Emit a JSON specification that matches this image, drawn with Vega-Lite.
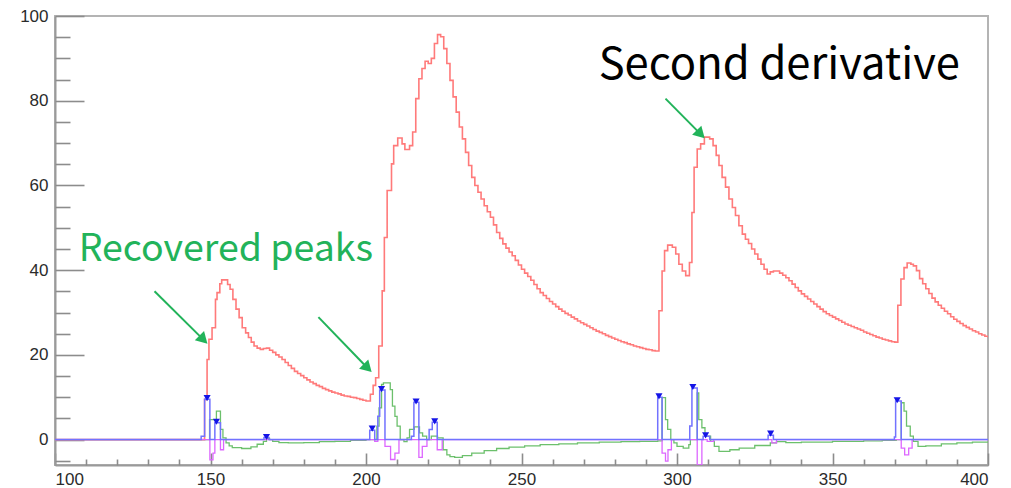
{
  "$schema": "https://vega.github.io/schema/vega-lite/v6.json",
  "width": 933,
  "height": 449,
  "autosize": "none",
  "padding": {"left": 55, "top": 16, "right": 23, "bottom": 23},
  "background": "white",
  "config": {
    "view": {"stroke": "#b4b4b4", "strokeWidth": 2},
    "axis": {"labelFont": "Liberation Sans", "labelFontSize": 17, "labelColor": "#2b2b2b", "domainColor": "#9a9a9a", "domainWidth": 2, "tickColor": "#8c8c8c", "tickWidth": 1.6, "grid": false, "title": null, "zindex": 1}
  },
  "datasets": {
    "red": [
      {"x":100,"y":0},{"x":148.1,"y":9.5},{"x":148.9,"y":18.9},{"x":149.5,"y":23.7},{"x":150.5,"y":26.4},{"x":151.6,"y":33.1},{"x":152.1,"y":34.7},{"x":153,"y":36.8},{"x":153.6,"y":37.7},{"x":155.5,"y":36.6},{"x":156.3,"y":35.5},{"x":157.2,"y":33.1},{"x":158.2,"y":30.8},{"x":159.2,"y":28.8},{"x":160.2,"y":26.4},{"x":161.3,"y":25.2},{"x":162.2,"y":24.1},{"x":163.1,"y":23.0},{"x":164,"y":22.1},{"x":165,"y":21.6},{"x":166,"y":21.3},{"x":167,"y":21.5},{"x":168,"y":21.6},{"x":169,"y":21.1},{"x":170,"y":20.6},{"x":171,"y":20.0},{"x":172,"y":19.5},{"x":173,"y":18.9},{"x":174,"y":18.2},{"x":175,"y":17.5},{"x":176,"y":16.8},{"x":177,"y":16.1},{"x":178,"y":15.6},{"x":179,"y":15.1},{"x":180,"y":14.6},{"x":181,"y":14.1},{"x":182,"y":13.6},{"x":183,"y":13.2},{"x":184,"y":12.8},{"x":185,"y":12.5},{"x":186,"y":12.1},{"x":187,"y":11.8},{"x":188,"y":11.5},{"x":189,"y":11.2},{"x":190,"y":11.0},{"x":191,"y":10.8},{"x":192,"y":10.5},{"x":193,"y":10.3},{"x":194,"y":10.2},{"x":195,"y":10.0},{"x":196,"y":9.9},{"x":197,"y":9.7},{"x":198,"y":9.5},{"x":199,"y":9.3},{"x":200,"y":9.1},
      {"x":201.4,"y":10.7},{"x":202.3,"y":12.8},{"x":203.1,"y":14.6},{"x":204.1,"y":22.1},{"x":205.2,"y":35.1},{"x":205.9,"y":47.7},{"x":206.8,"y":58.8},{"x":208.2,"y":65.1},{"x":208.9,"y":69.4},{"x":210.2,"y":71.2},{"x":211.6,"y":69.8},{"x":212.5,"y":68.5},{"x":214,"y":69.4},{"x":215,"y":72.6},{"x":216,"y":80.5},{"x":217,"y":85.2},{"x":218,"y":87.6},{"x":219,"y":89.3},{"x":220,"y":88.8},{"x":221,"y":90.0},{"x":222,"y":93.5},{"x":223,"y":95.6},{"x":224,"y":95.1},{"x":225,"y":92.3},{"x":226,"y":88.8},{"x":227,"y":84.8},{"x":228,"y":80.9},{"x":229,"y":77.3},{"x":230,"y":73.8},{"x":231,"y":71.0},{"x":232,"y":67.8},{"x":233,"y":64.7},{"x":234,"y":61.9},{"x":235,"y":60.0},{"x":236,"y":58.4},{"x":237,"y":56.8},{"x":238,"y":55.2},{"x":239,"y":53.8},{"x":240,"y":52.5},{"x":241,"y":50.7},{"x":242,"y":48.9},{"x":243,"y":47.5},{"x":244,"y":46.2},{"x":245,"y":45.2},{"x":246,"y":44.3},{"x":247,"y":43.4},{"x":248,"y":42.3},{"x":249,"y":41.2},{"x":250,"y":40.2},{"x":251,"y":39.3},{"x":252,"y":38.5},{"x":253,"y":37.6},{"x":254,"y":36.6},{"x":255,"y":35.6},{"x":256,"y":34.7},{"x":257,"y":34.0},{"x":258,"y":33.3},{"x":259,"y":32.6},{"x":260,"y":32.0},{"x":261,"y":31.4},{"x":262,"y":30.8},{"x":263,"y":30.3},{"x":264,"y":29.8},{"x":265,"y":29.4},{"x":266,"y":28.9},{"x":267,"y":28.5},{"x":268,"y":28.0},{"x":269,"y":27.6},{"x":270,"y":27.2},{"x":271,"y":26.8},{"x":272,"y":26.4},{"x":273,"y":26.0},{"x":274,"y":25.6},{"x":275,"y":25.3},{"x":276,"y":25.0},{"x":277,"y":24.6},{"x":278,"y":24.3},{"x":279,"y":24.0},{"x":280,"y":23.7},{"x":281,"y":23.4},{"x":282,"y":23.1},{"x":283,"y":22.9},{"x":284,"y":22.6},{"x":285,"y":22.4},{"x":286,"y":22.1},{"x":287,"y":21.9},{"x":288,"y":21.7},{"x":289,"y":21.5},{"x":290,"y":21.3},{"x":291,"y":21.2},{"x":292,"y":21.0},{"x":293,"y":20.9},
      {"x":294.2,"y":30.4},{"x":295.2,"y":39.8},{"x":296,"y":44.6},{"x":297,"y":45.9},{"x":298.5,"y":45.4},{"x":299.6,"y":43.8},{"x":300.6,"y":41.4},{"x":301.7,"y":39.8},{"x":302.8,"y":38.7},{"x":304,"y":41.8},{"x":304.8,"y":53.6},{"x":305.5,"y":64.3},{"x":306.5,"y":68.6},{"x":307.6,"y":69.8},{"x":308.8,"y":71.4},{"x":310.5,"y":71.0},{"x":311.6,"y":69.4},{"x":312.6,"y":67.1},{"x":313.5,"y":64.7},{"x":314.5,"y":61.9},{"x":315.6,"y":59.6},{"x":316.7,"y":56.8},{"x":317.8,"y":54.8},{"x":318.8,"y":52.9},{"x":319.9,"y":50.5},{"x":321,"y":48.5},{"x":322,"y":47.3},{"x":323,"y":46.3},{"x":324,"y":45.0},{"x":325,"y":43.8},{"x":326,"y":42.6},{"x":327,"y":41.4},{"x":328,"y":40.2},{"x":329,"y":39.1},{"x":330,"y":39.6},{"x":331,"y":39.8},{"x":332,"y":39.8},{"x":333,"y":39.3},{"x":334,"y":38.8},{"x":335,"y":38.2},{"x":336,"y":37.5},{"x":337,"y":36.7},{"x":338,"y":35.9},{"x":339,"y":35.1},{"x":340,"y":34.4},{"x":341,"y":33.8},{"x":342,"y":33.2},{"x":343,"y":32.6},{"x":344,"y":32.0},{"x":345,"y":31.4},{"x":346,"y":30.8},{"x":347,"y":30.2},{"x":348,"y":29.7},{"x":349,"y":29.3},{"x":350,"y":28.9},{"x":351,"y":28.5},{"x":352,"y":28.1},{"x":353,"y":27.7},{"x":354,"y":27.3},{"x":355,"y":27.0},{"x":356,"y":26.7},{"x":357,"y":26.4},{"x":358,"y":26.1},{"x":359,"y":25.8},{"x":360,"y":25.4},{"x":361,"y":25.1},{"x":362,"y":24.8},{"x":363,"y":24.5},{"x":364,"y":24.2},{"x":365,"y":24.0},{"x":366,"y":23.7},{"x":367,"y":23.5},{"x":368,"y":23.3},{"x":369,"y":23.1},{"x":370,"y":23.0},
      {"x":371,"y":31.7},{"x":372,"y":37.9},{"x":373,"y":40.6},{"x":374,"y":41.7},{"x":375.2,"y":41.4},{"x":376,"y":41.0},{"x":377,"y":39.9},{"x":378,"y":38.0},{"x":379,"y":36.8},{"x":380,"y":35.6},{"x":381,"y":34.5},{"x":382,"y":33.4},{"x":383,"y":32.5},{"x":384,"y":31.7},{"x":385,"y":31.0},{"x":386,"y":30.3},{"x":387,"y":29.7},{"x":388,"y":29.0},{"x":389,"y":28.4},{"x":390,"y":27.9},{"x":391,"y":27.4},{"x":392,"y":26.9},{"x":393,"y":26.5},{"x":394,"y":26.1},{"x":395,"y":25.7},{"x":396,"y":25.4},{"x":397,"y":25.0},{"x":398,"y":24.7},{"x":399,"y":24.4},{"x":400,"y":24.1}
    ],
    "green": [
      {"x":100,"y":0},{"x":149.7,"y":4.7},{"x":151.9,"y":6.7},{"x":153.2,"y":2.4},{"x":154,"y":0.4},{"x":155,"y":-0.8},{"x":156,"y":-1.5},{"x":157,"y":-1.9},{"x":160,"y":-2.1},{"x":163,"y":-1.7},{"x":165,"y":-1.1},{"x":167,"y":-0.4},{"x":168,"y":0.3},{"x":169,"y":0},{"x":170,"y":-0.4},{"x":172,"y":-0.7},{"x":175,"y":-0.8},{"x":180,"y":-0.7},{"x":185,"y":-0.5},{"x":190,"y":-0.4},{"x":195,"y":-0.2},{"x":200,"y":0},
      {"x":203.5,"y":3.2},{"x":204.2,"y":7.5},{"x":205,"y":13.0},{"x":205.6,"y":13.4},{"x":207.8,"y":11.8},{"x":208.5,"y":7.9},{"x":209.3,"y":5.5},{"x":210,"y":3.2},{"x":211,"y":0},{"x":212.2,"y":-0.5},{"x":213.2,"y":0.4},{"x":214,"y":2.4},{"x":215.5,"y":3.0},{"x":217.2,"y":1.6},{"x":218.2,"y":0.8},{"x":219.5,"y":0},{"x":221,"y":0.8},{"x":223,"y":0.4},{"x":224.8,"y":-2.4},{"x":226,"y":-3.6},{"x":227,"y":-4.0},{"x":228.5,"y":-4.2},{"x":231,"y":-3.8},{"x":234,"y":-3.2},{"x":238,"y":-2.6},{"x":242,"y":-2.1},{"x":246,"y":-1.8},{"x":251,"y":-1.5},{"x":256,"y":-1.2},{"x":262,"y":-1.0},{"x":268,"y":-0.8},{"x":275,"y":-0.6},{"x":282,"y":-0.5},{"x":288,"y":-0.4},{"x":293.8,"y":-0.3},
      {"x":295.2,"y":9.9},{"x":296.3,"y":4.7},{"x":297,"y":2.4},{"x":298,"y":0},{"x":299,"y":-0.8},{"x":300,"y":-1.6},{"x":302,"y":-2.0},{"x":303.8,"y":-1.2},{"x":304.3,"y":0},{"x":306.5,"y":11.0},{"x":307,"y":4.7},{"x":308,"y":2.8},{"x":309,"y":0.8},{"x":310.8,"y":-0.4},{"x":312,"y":-1.6},{"x":313.5,"y":-2.8},{"x":317,"y":-2.4},{"x":320,"y":-2.0},{"x":325,"y":-1.4},{"x":330,"y":-0.8},{"x":332,"y":-0.5},{"x":335,"y":-0.7},{"x":340,"y":-0.6},{"x":350,"y":-0.4},{"x":360,"y":-0.3},{"x":366,"y":-0.2},{"x":370.5,"y":0},
      {"x":372.1,"y":8.7},{"x":373,"y":6.7},{"x":373.8,"y":3.2},{"x":375,"y":0.8},{"x":376,"y":-0.4},{"x":377.5,"y":-1.6},{"x":380,"y":-1.5},{"x":385,"y":-1.0},{"x":390,"y":-0.8},{"x":395,"y":-0.6},{"x":400,"y":-0.5}
    ],
    "mag": [
      {"x":100,"y":0},{"x":149.8,"y":-4.8},{"x":150.8,"y":-3.2},{"x":151.4,"y":0},{"x":153.2,"y":-2.4},{"x":154.2,"y":0},{"x":202.8,"y":-0.4},{"x":203.8,"y":0},{"x":206.1,"y":-1.6},{"x":207.9,"y":-4.7},{"x":209.3,"y":-3.2},{"x":210.6,"y":0},{"x":217.0,"y":-4.2},{"x":218.1,"y":-1.6},{"x":219.6,"y":0},{"x":222.9,"y":-2.4},{"x":224.5,"y":0},{"x":295.2,"y":-3.2},{"x":296.3,"y":-5.1},{"x":297.1,"y":-2.4},{"x":298.2,"y":0},{"x":306.5,"y":-6},{"x":308.0,"y":0},{"x":309.7,"y":-0.4},{"x":311.8,"y":0},{"x":330.5,"y":-0.8},{"x":332,"y":0},{"x":372.1,"y":-2.0},{"x":373.2,"y":-3.6},{"x":374.5,"y":-2.0},{"x":375.6,"y":0},{"x":400,"y":0}
    ],
    "blue": [
      {"x":100,"y":0},{"x":147,"y":0.8},{"x":148.1,"y":9.5},{"x":149.8,"y":0},{"x":151.4,"y":4.0},{"x":153.2,"y":0},{"x":167.2,"y":0.5},{"x":168.8,"y":0},{"x":201.2,"y":2.2},{"x":202.8,"y":0},{"x":203.8,"y":5.5},{"x":204.4,"y":11.7},{"x":206.1,"y":0},{"x":214.6,"y":0.8},{"x":215.4,"y":8.8},{"x":217.0,"y":0},{"x":220.3,"y":2.4},{"x":221.3,"y":4.1},{"x":222.9,"y":0},{"x":293.8,"y":10.0},{"x":295.2,"y":0},{"x":304.1,"y":3.2},{"x":304.8,"y":12.2},{"x":306.5,"y":0},{"x":308.4,"y":0.8},{"x":310.5,"y":0},{"x":329.3,"y":1.0},{"x":331,"y":0},{"x":369.9,"y":0.6},{"x":370.3,"y":9.1},{"x":372.1,"y":0},{"x":400,"y":0}
    ],
    "peaks": [
      {"x":148.9,"y":9.8},{"x":151.9,"y":4.2},{"x":168.0,"y":0.6},{"x":202.0,"y":2.6},{"x":205.0,"y":11.9},{"x":216.1,"y":9.0},{"x":222.1,"y":4.3},{"x":294.2,"y":10.2},{"x":305.1,"y":12.4},{"x":309.2,"y":1.0},{"x":330.1,"y":1.4},{"x":370.8,"y":9.3}
    ],
    "arrows": [
      {"x":132.0,"y":35.0,"hx":147.3,"hy":23.9},
      {"x":184.7,"y":28.9,"hx":200.1,"hy":17.2},
      {"x":296.3,"y":80.5,"hx":307.2,"hy":72.4}
    ],
    "green_label": [{"x":107.6,"y":42.1,"t":"Recovered peaks"}],
    "black_label": [{"x":274.8,"y":85.2,"t":"Second derivative"}]
  },
  "layer": [
    {
      "data": {"name": "red"},
      "mark": {"type": "line", "interpolate": "step-after", "color": "#ff7a7a", "strokeWidth": 1.6, "clip": true},
      "encoding": {
        "x": {"field": "x", "type": "quantitative", "scale": {"domain": [100, 400], "nice": false, "zero": false},
              "axis": {"orient": "bottom", "values": [100,150,200,250,300,350,400], "ticks": false, "labelPadding": 6, "format": "d"}},
        "y": {"field": "y", "type": "quantitative", "scale": {"domain": [-6, 100], "nice": false, "zero": false},
              "axis": {"orient": "left", "values": [0,20,40,60,80,100], "ticks": false, "labelPadding": 7, "format": "d"}}
      }
    },
    {
      "data": {"name": "green"},
      "mark": {"type": "line", "interpolate": "step-after", "color": "#6cc06c", "strokeWidth": 1.3, "clip": true},
      "encoding": {
        "x": {"field": "x", "type": "quantitative",
              "axis": {"orient": "bottom", "values": [100,150,200,250,300,350,400], "labels": false, "domain": false, "tickSize": -12}},
        "y": {"field": "y", "type": "quantitative",
              "axis": {"orient": "left", "values": [0,20,40,60,80,100], "labels": false, "domain": false, "tickSize": -29}}
      }
    },
    {
      "data": {"name": "mag"},
      "mark": {"type": "line", "interpolate": "step-after", "color": "#dd66ff", "strokeWidth": 1.3, "clip": true},
      "encoding": {
        "x": {"field": "x", "type": "quantitative",
              "axis": {"orient": "bottom", "values": [110,120,130,140,160,170,180,190,210,220,230,240,260,270,280,290,310,320,330,340,360,370,380,390], "labels": false, "domain": false, "tickSize": -6}},
        "y": {"field": "y", "type": "quantitative",
              "axis": {"orient": "left", "values": [-5,5,10,15,25,30,35,45,50,55,65,70,75,85,90,95], "labels": false, "domain": false, "tickSize": -15}}
      }
    },
    {
      "data": {"name": "blue"},
      "mark": {"type": "line", "interpolate": "step-after", "color": "#7272ff", "strokeWidth": 1.5, "clip": true},
      "encoding": {
        "x": {"field": "x", "type": "quantitative", "axis": null},
        "y": {"field": "y", "type": "quantitative", "axis": null}
      }
    },
    {
      "data": {"name": "peaks"},
      "mark": {"type": "point", "shape": "triangle-down", "filled": true, "color": "#1414e6", "size": 50, "opacity": 1},
      "encoding": {
        "x": {"field": "x", "type": "quantitative", "axis": null},
        "y": {"field": "y", "type": "quantitative", "axis": null}
      }
    },
    {
      "data": {"name": "arrows"},
      "mark": {"type": "rule", "color": "#22b35a", "strokeWidth": 2},
      "encoding": {
        "x": {"field": "x", "type": "quantitative", "axis": null},
        "y": {"field": "y", "type": "quantitative", "axis": null},
        "x2": {"field": "hx"},
        "y2": {"field": "hy"}
      }
    },
    {
      "data": {"name": "arrows"},
      "mark": {"type": "point", "shape": "triangle", "filled": true, "color": "#22b35a", "size": 170, "angle": 135, "opacity": 1},
      "encoding": {
        "x": {"field": "hx", "type": "quantitative", "axis": null},
        "y": {"field": "hy", "type": "quantitative", "axis": null}
      }
    },
    {
      "data": {"name": "green_label"},
      "mark": {"type": "text", "align": "left", "baseline": "alphabetic", "font": "Noto Sans CJK SC", "fontSize": 37.5, "color": "#22b35a"},
      "encoding": {
        "x": {"field": "x", "type": "quantitative", "axis": null},
        "y": {"field": "y", "type": "quantitative", "axis": null},
        "text": {"field": "t"}
      }
    },
    {
      "data": {"name": "black_label"},
      "mark": {"type": "text", "align": "left", "baseline": "alphabetic", "font": "Noto Sans CJK SC", "fontSize": 43.5, "color": "#000000"},
      "encoding": {
        "x": {"field": "x", "type": "quantitative", "axis": null},
        "y": {"field": "y", "type": "quantitative", "axis": null},
        "text": {"field": "t"}
      }
    }
  ],
  "resolve": {"axis": {"x": "independent", "y": "independent"}}
}
